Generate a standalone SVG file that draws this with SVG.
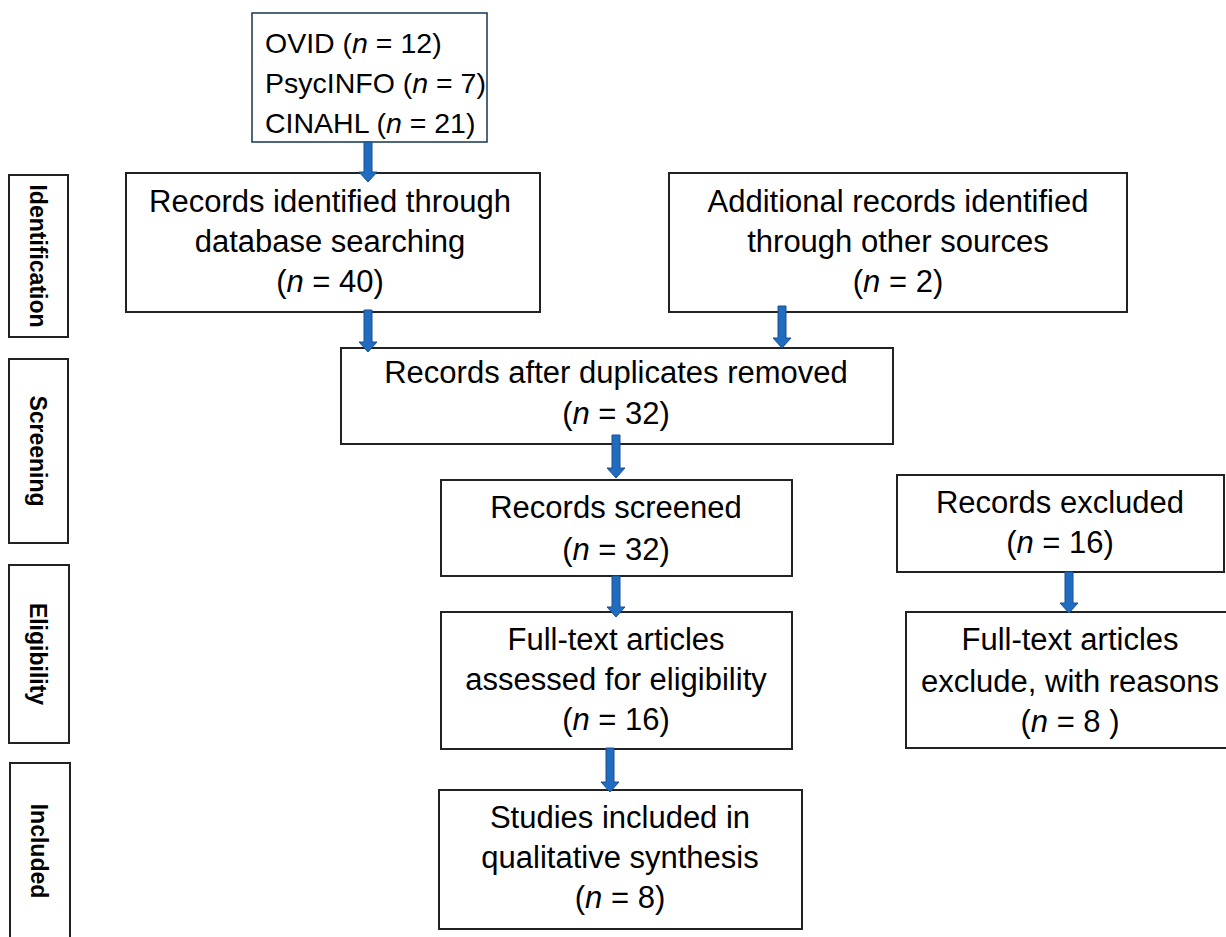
<svg xmlns="http://www.w3.org/2000/svg" width="1226" height="937" viewBox="0 0 1226 937">
<style>
.box{fill:#fff;stroke:#222;stroke-width:2}
.src{fill:#fff;stroke:#23405f;stroke-width:1.6}
.t{font-family:"Liberation Sans",Arial,sans-serif;font-size:31px;fill:#000;text-anchor:middle}
.tl{font-family:"Liberation Sans",Arial,sans-serif;font-size:28.5px;fill:#000}
.side{font-family:"Liberation Sans",Arial,sans-serif;font-size:23px;font-weight:bold;fill:#000;text-anchor:middle}
.arr{fill:#1f6cc1;stroke:#1c4f8c;stroke-width:1}
.n{font-style:italic}
</style>

<g id="side-identification">
<rect class="box" x="9" y="175" width="59" height="162"/>
<text class="side" transform="translate(30,256) rotate(90)">Identification</text>
</g>
<g id="side-screening">
<rect class="box" x="9" y="359" width="59" height="184"/>
<text class="side" transform="translate(30,451) rotate(90)">Screening</text>
</g>
<g id="side-eligibility">
<rect class="box" x="9" y="565" width="60" height="178"/>
<text class="side" transform="translate(30,654) rotate(90)">Eligibility</text>
</g>
<g id="side-included">
<rect class="box" x="10" y="763" width="60" height="185"/>
<text class="side" transform="translate(31,851) rotate(90)">Included</text>
</g>

<g id="sources">
<rect class="src" x="252" y="13" width="235" height="129"/>
<text class="tl" x="265" y="53">OVID (<tspan class="n">n</tspan> = 12)</text>
<text class="tl" x="265" y="93">PsycINFO (<tspan class="n">n</tspan> = 7)</text>
<text class="tl" x="265" y="133">CINAHL (<tspan class="n">n</tspan> = 21)</text>
</g>

<g id="records-identified">
<rect class="box" x="126" y="173" width="414" height="139"/>
<text class="t" x="330" y="212">Records identified through</text>
<text class="t" x="330" y="252">database searching</text>
<text class="t" x="330" y="292">(<tspan class="n">n</tspan> = 40)</text>
</g>

<g id="additional-records">
<rect class="box" x="669" y="173" width="458" height="139"/>
<text class="t" x="898" y="212">Additional records identified</text>
<text class="t" x="898" y="252">through other sources</text>
<text class="t" x="898" y="292">(<tspan class="n">n</tspan> = 2)</text>
</g>

<g id="duplicates-removed">
<rect class="box" x="341" y="348" width="552" height="96"/>
<text class="t" x="616" y="383">Records after duplicates removed</text>
<text class="t" x="616" y="424">(<tspan class="n">n</tspan> = 32)</text>
</g>

<g id="records-screened">
<rect class="box" x="441" y="480" width="351" height="96"/>
<text class="t" x="616" y="518">Records screened</text>
<text class="t" x="616" y="560">(<tspan class="n">n</tspan> = 32)</text>
</g>

<g id="records-excluded">
<rect class="box" x="897" y="475" width="327" height="97"/>
<text class="t" x="1060" y="513">Records excluded</text>
<text class="t" x="1060" y="553">(<tspan class="n">n</tspan> = 16)</text>
</g>

<g id="fulltext-assessed">
<rect class="box" x="441" y="612" width="351" height="137"/>
<text class="t" x="616" y="650">Full-text articles</text>
<text class="t" x="616" y="690">assessed for eligibility</text>
<text class="t" x="616" y="730">(<tspan class="n">n</tspan> = 16)</text>
</g>

<g id="fulltext-excluded">
<rect class="box" x="906" y="612" width="330" height="136"/>
<text class="t" x="1070" y="650">Full-text articles</text>
<text class="t" x="1070" y="692">exclude, with reasons</text>
<text class="t" x="1070" y="732">(<tspan class="n">n</tspan> = 8 )</text>
</g>

<g id="studies-included">
<rect class="box" x="439" y="790" width="363" height="139"/>
<text class="t" x="620" y="828">Studies included in</text>
<text class="t" x="620" y="868">qualitative synthesis</text>
<text class="t" x="620" y="908">(<tspan class="n">n</tspan> = 8)</text>
</g>

<g id="connectors">
<path class="arr" d="M364,142 L372,142 L372,172 L377,172 L368,182 L359,172 L364,172 Z"/>
<path class="arr" d="M364,310 L372,310 L372,342 L377,342 L368,352 L359,342 L364,342 Z"/>
<path class="arr" d="M778,306 L786,306 L786,338 L791,338 L782,348 L773,338 L778,338 Z"/>
<path class="arr" d="M612,435 L620,435 L620,468 L625,468 L616,478 L607,468 L612,468 Z"/>
<path class="arr" d="M612,576 L620,576 L620,607 L625,607 L616,617 L607,607 L612,607 Z"/>
<path class="arr" d="M606,748 L614,748 L614,782 L619,782 L610,792 L601,782 L606,782 Z"/>
<path class="arr" d="M1065,572 L1073,572 L1073,603 L1078,603 L1069,613 L1060,603 L1065,603 Z"/>
</g>
</svg>
